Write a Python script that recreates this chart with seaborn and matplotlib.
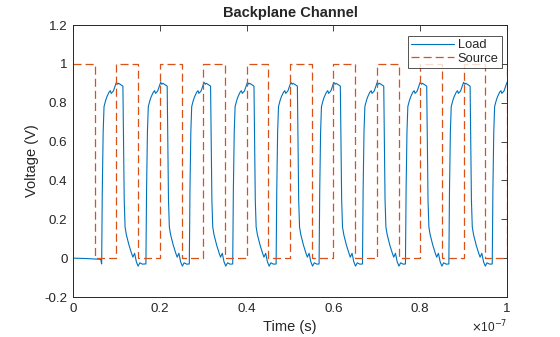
import numpy as np
import pandas as pd
import matplotlib
matplotlib.use("Agg")
import matplotlib.pyplot as plt
from matplotlib.ticker import FuncFormatter, MultipleLocator
import seaborn as sns

# Source: ideal square wave, level changes every 5 ns (times in ns)
source_t_ns = [0, 5, 10, 15, 20, 25, 30, 35, 40, 45, 50,
               55, 60, 65, 70, 75, 80, 85, 90, 95, 100]
source_v = [1, 0, 1, 0, 1, 0, 1, 0, 1, 0, 1,
            0, 1, 0, 1, 0, 1, 0, 1, 0, 1]

# Load: idle level before the first edge arrives
lead_t_ns = [0.0, 3.0, 6.4]
lead_v = [0.0, -0.002, -0.006]

# Load: start time of each received pulse (ns)
pulse_rise_ns = [6.6, 16.8, 26.8, 36.8, 46.8, 56.7, 66.7, 76.6, 86.6, 96.6]

# Load: received pulse shape, offset from its rising edge (ns) and voltage (V)
pulse_dt_ns = [0.0, 0.15, 0.35, 0.55, 0.9, 1.2, 1.7, 2.0, 2.2, 2.7, 3.1,
               3.4, 3.7, 3.9, 4.6, 4.9, 5.05, 5.2, 5.4, 5.7, 6.3, 6.9,
               7.2, 7.6, 8.0, 8.4, 8.8, 9.4, 9.85]
pulse_v = [-0.03, 0.35, 0.65, 0.78, 0.81, 0.83, 0.854, 0.862, 0.848, 0.86, 0.885,
           0.905, 0.895, 0.90, 0.89, 0.885, 0.60, 0.30, 0.16, 0.12, 0.067, 0.024,
           0.005, 0.025, -0.019, -0.041, -0.024, -0.031, -0.03]

# Assemble the load trace
load_t, load_v = list(lead_t_ns), list(lead_v)
for k, r in enumerate(pulse_rise_ns):
    nxt = pulse_rise_ns[k + 1] if k + 1 < len(pulse_rise_ns) else 100.0001
    for dt, v in zip(pulse_dt_ns, pulse_v):
        t = r + dt
        if t < nxt and t <= 100.0001:
            load_t.append(t)
            load_v.append(v)

load_df = pd.DataFrame({"t": np.array(load_t) * 1e-9, "v": load_v})
source_df = pd.DataFrame({"t": np.array(source_t_ns) * 1e-9, "v": source_v})

sns.set_theme(style="white")
plt.rcParams["font.family"] = ["Liberation Sans", "DejaVu Sans"]
plt.rcParams["lines.scale_dashes"] = False

dark = "#262626"
fig = plt.figure(figsize=(5.6, 3.37), dpi=100)
ax = fig.add_axes([73 / 560, 1 - 297 / 337, 434 / 560, 272 / 337])

sns.lineplot(data=load_df, x="t", y="v", ax=ax, color="#0072BD", lw=0.8,
             estimator=None, sort=False, label="Load")
sns.lineplot(data=source_df, x="t", y="v", ax=ax, color="#D95319", lw=0.9,
             estimator=None, sort=False, drawstyle="steps-post",
             dashes=False, label="Source")
ax.lines[-1].set_dashes((5.8, 2.9))

ax.set_xlim(0, 1e-7)
ax.set_ylim(-0.2, 1.2)
ax.xaxis.set_major_locator(MultipleLocator(0.2e-7))
ax.yaxis.set_major_locator(MultipleLocator(0.2))
ax.xaxis.set_major_formatter(FuncFormatter(lambda x, p: f"{x / 1e-7:.10g}" if abs(x) > 1e-12 else "0"))
ax.yaxis.set_major_formatter(FuncFormatter(lambda y, p: f"{round(y, 2):g}" if abs(y) > 1e-9 else "0"))

ax.tick_params(direction="in", top=True, right=True, length=4, width=0.6,
               colors=dark, labelsize=9.6, pad=4)
for s in ax.spines.values():
    s.set_color(dark)
    s.set_linewidth(0.7)

ax.set_xlabel("Time (s)", fontsize=10.5, color=dark, labelpad=4)
ax.set_ylabel("Voltage (V)", fontsize=10.5, color=dark, labelpad=4)
ax.set_title("Backplane Channel", fontsize=10.5, fontweight="bold", color=dark, pad=6)
ax.text(1.0, -30 / 272, r"$\times$10$^{-7}$", transform=ax.transAxes, ha="right",
        va="center", fontsize=8.5, color=dark)

leg = ax.legend(loc="upper right", bbox_to_anchor=((502 - 73) / 434, (297 - 36) / 272),
                borderaxespad=0, fontsize=9.3, frameon=True, fancybox=False,
                edgecolor=dark, handlelength=3.3, handletextpad=0.3,
                borderpad=0.25, labelspacing=0.1)
leg.get_frame().set_linewidth(0.7)
for txt in leg.get_texts():
    txt.set_color(dark)

fig.savefig("out.png", dpi=100)
